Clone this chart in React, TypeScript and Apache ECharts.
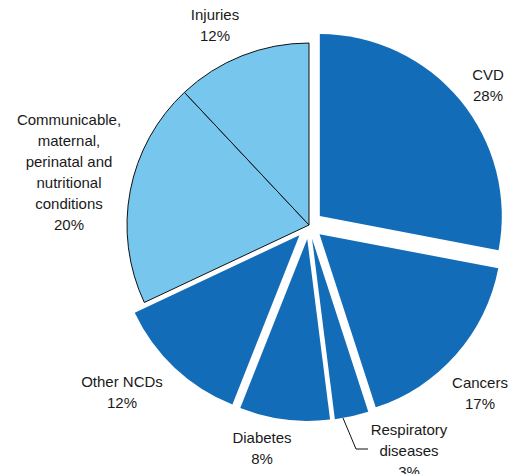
import React, { useEffect, useRef } from "react";
import * as echarts from "echarts";

const categories = [
  "CVD",
  "Cancers",
  "Respiratory\ndiseases",
  "Diabetes",
  "Other NCDs",
  "Communicable,\nmaternal,\nperinatal and\nnutritional\nconditions",
  "Injuries",
];
const values = [28, 17, 3, 8, 12, 20, 12];
const isNCD = [true, true, true, true, true, false, false];

const DARK = "#136cb7";
const LIGHT = "#77c6ee";

// label centres (px) per slice
const labelPos: [number, number][] = [
  [488, 85],
  [480, 393],
  [409, 450],
  [262, 448],
  [122, 392],
  [69, 172],
  [215, 25],
];

// leader line for the respiratory label
const leader: [number, number][] = [
  [343, 418],
  [356, 449],
  [368, 449],
];

export default function App() {
  const ref = useRef<HTMLDivElement>(null);
  useEffect(() => {
    if (!ref.current) return;
    const chart = echarts.init(ref.current, undefined, { renderer: "svg" });
    const total = values.reduce((a, b) => a + b, 0);
    const data = categories.map((name, i) => ({
      name,
      value: values[i],
      selected: isNCD[i],
      itemStyle: isNCD[i]
        ? { color: DARK, borderWidth: 0 }
        : { color: LIGHT, borderColor: "#111", borderWidth: 1 },
      select: {
        itemStyle: isNCD[i]
          ? { color: DARK, borderWidth: 0 }
          : { color: LIGHT, borderColor: "#111", borderWidth: 1 },
      },
    }));
    const labels = categories.map((name, i) => ({
      type: "text",
      x: labelPos[i][0],
      y: labelPos[i][1],
      silent: true,
      style: {
        text: `${name}\n${Math.round((values[i] / total) * 100)}%`,
        align: "center",
        verticalAlign: "middle",
        fontFamily: "Liberation Sans",
        fontSize: 15,
        lineHeight: 21,
        fill: "#1a1a1a",
      },
    }));
    chart.setOption({
      animation: false,
      backgroundColor: "#ffffff",
      graphic: [
        ...labels,
        {
          type: "polyline",
          silent: true,
          shape: { points: leader },
          style: { stroke: "#111", lineWidth: 1, fill: "none" },
        },
      ],
      series: [
        {
          type: "pie",
          center: [309, 225],
          radius: 182,
          startAngle: 90,
          clockwise: true,
          selectedMode: "multiple",
          selectedOffset: 14,
          silent: true,
          label: { show: false },
          labelLine: { show: false },
          data,
        },
      ],
    });
    return () => chart.dispose();
  }, []);
  return (
    <div
      ref={ref}
      style={{ position: "fixed", left: 0, top: 0, width: 510, height: 474 }}
    />
  );
}
